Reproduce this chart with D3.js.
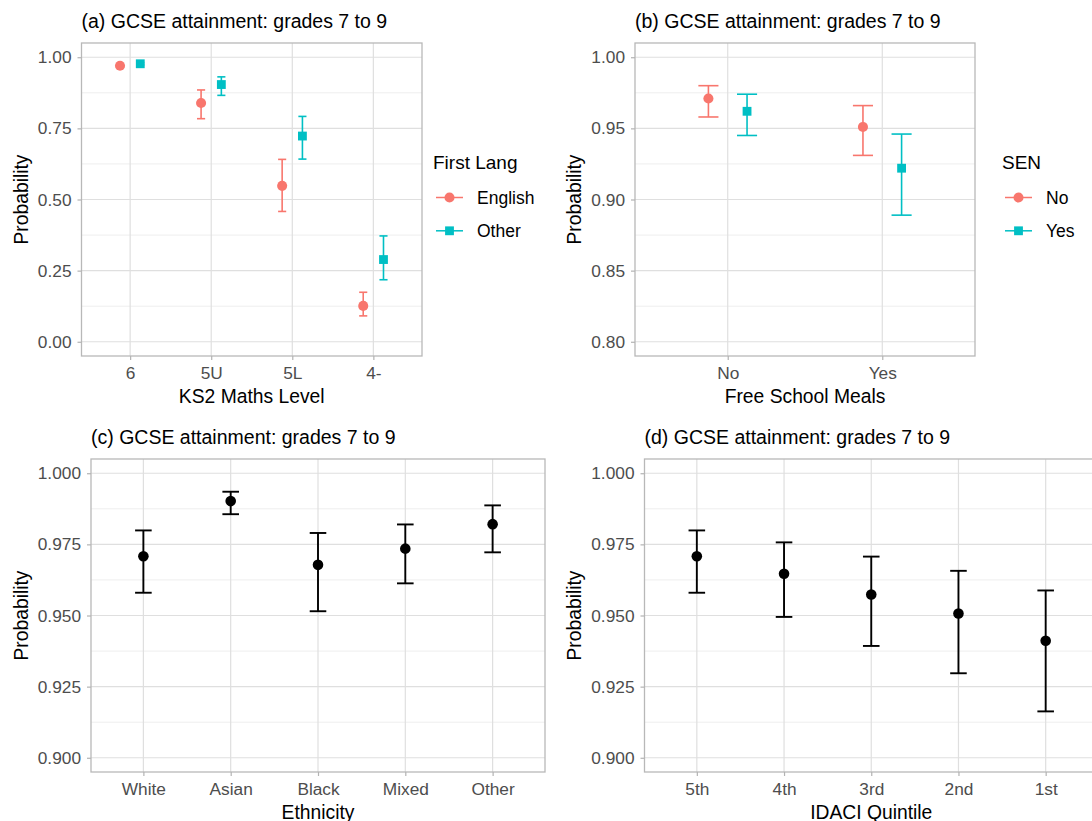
<!DOCTYPE html>
<html>
<head>
<meta charset="utf-8">
<script src="https://cdn.jsdelivr.net/npm/d3@7"></script>
<style>
  body { margin: 0; background: #fff; }
  text { font-family: "Liberation Sans", Arial, sans-serif; }
</style>
</head>
<body>
<svg id="chart" width="1092" height="821"></svg>
<script>
// (a) KS2 maths level by first language
const ks2Levels = ['6', '5U', '5L', '4-'];
const langGroups = ['English', 'Other'];
const englishEst = [0.970, 0.839, 0.548, 0.126];
const englishLo = [0.966, 0.784, 0.458, 0.091];
const englishHi = [0.974, 0.885, 0.641, 0.174];
const otherEst = [0.977, 0.904, 0.723, 0.289];
const otherLo = [0.973, 0.866, 0.642, 0.218];
const otherHi = [0.981, 0.931, 0.792, 0.372];

// (b) free school meals by SEN
const fsmLevels = ['No', 'Yes'];
const senGroups = ['No', 'Yes'];
const senNoEst = [0.971, 0.951];
const senNoLo = [0.958, 0.931];
const senNoHi = [0.980, 0.966];
const senYesEst = [0.962, 0.922];
const senYesLo = [0.945, 0.889];
const senYesHi = [0.974, 0.946];

// (c) ethnicity
const ethnicities = ['White', 'Asian', 'Black', 'Mixed', 'Other'];
const ethEst = [0.9708, 0.9902, 0.9678, 0.9735, 0.9821];
const ethLo = [0.9580, 0.9856, 0.9515, 0.9613, 0.9722];
const ethHi = [0.9799, 0.9935, 0.9790, 0.9820, 0.9887];

// (d) IDACI quintile
const quintiles = ['5th', '4th', '3rd', '2nd', '1st'];
const idaciEst = [0.9708, 0.9647, 0.9574, 0.9507, 0.9411];
const idaciLo = [0.9580, 0.9495, 0.9393, 0.9297, 0.9163];
const idaciHi = [0.9799, 0.9757, 0.9707, 0.9657, 0.9588];

// y ticks
const ticksA = [0, 0.25, 0.5, 0.75, 1];
const ticksB = [0.80, 0.85, 0.90, 0.95, 1.00];
const ticksCD = [0.900, 0.925, 0.950, 0.975, 1.000];

const RED = '#F8766D', CYAN = '#00BFC4';
const FONT = '"Liberation Sans", Arial, sans-serif';

const svg = d3.select('#chart');
svg.append('rect').attr('width', 1092).attr('height', 821).attr('fill', '#fff');

function toRows(cats, est, lo, hi) {
  return cats.map((c, i) => ({ cat: c, est: est[i], lo: lo[i], hi: hi[i] }));
}

function marker(shape, size) {
  return d3.symbol().type(shape).size(size)();
}

function drawPanel(p) {
  const g = svg.append('g');
  const x = d3.scalePoint().domain(p.cats).range([p.left, p.right]).padding(0.6);
  const span = p.yTicks[p.yTicks.length - 1] - p.yTicks[0];
  const y = d3.scaleLinear()
    .domain([p.yTicks[0] - span * 0.05, p.yTicks[p.yTicks.length - 1] + span * 0.05])
    .range([p.bottom, p.top]);
  const step = x.step();

  // minor grid
  const minors = d3.pairs(p.yTicks).map(([a, b]) => (a + b) / 2);
  g.append('g').selectAll('line').data(minors).join('line')
    .attr('x1', p.left).attr('x2', p.right)
    .attr('y1', d => y(d)).attr('y2', d => y(d))
    .attr('stroke', '#eeeeee').attr('stroke-width', 1);

  // major grid
  g.append('g').selectAll('line').data(p.yTicks).join('line')
    .attr('x1', p.left).attr('x2', p.right)
    .attr('y1', d => y(d)).attr('y2', d => y(d))
    .attr('stroke', '#dfdfdf').attr('stroke-width', 1.2);
  g.append('g').selectAll('line').data(p.cats).join('line')
    .attr('x1', d => x(d)).attr('x2', d => x(d))
    .attr('y1', p.top).attr('y2', p.bottom)
    .attr('stroke', '#dfdfdf').attr('stroke-width', 1.2);

  // error bars and points
  const n = p.series.length;
  p.series.forEach((s, i) => {
    const off = (i - (n - 1) / 2) * step * 0.25;
    const half = step * p.capFrac / 2;
    const sg = g.append('g');
    const rows = s.rows;
    sg.selectAll('.v').data(rows).join('line')
      .attr('x1', d => x(d.cat) + off).attr('x2', d => x(d.cat) + off)
      .attr('y1', d => y(d.lo)).attr('y2', d => y(d.hi))
      .attr('stroke', s.color).attr('stroke-width', p.lw);
    ['lo', 'hi'].forEach(k => {
      sg.selectAll('.c' + k).data(rows).join('line')
        .attr('x1', d => x(d.cat) + off - half).attr('x2', d => x(d.cat) + off + half)
        .attr('y1', d => y(d[k])).attr('y2', d => y(d[k]))
        .attr('stroke', s.color).attr('stroke-width', p.lw);
    });
    sg.selectAll('path.pt').data(rows).join('path')
      .attr('class', 'pt')
      .attr('transform', d => `translate(${x(d.cat) + off},${y(d.est)})`)
      .attr('d', marker(s.shape, s.size))
      .attr('fill', s.color);
  });

  // panel border
  g.append('rect')
    .attr('x', p.left).attr('y', p.top)
    .attr('width', p.right - p.left).attr('height', p.bottom - p.top)
    .attr('fill', 'none').attr('stroke', '#b8b8b8').attr('stroke-width', 1.3);

  // axes
  const yAxis = g.append('g').attr('transform', `translate(${p.left},0)`)
    .call(d3.axisLeft(y).tickValues(p.yTicks).tickFormat(d3.format(p.fmt)).tickSize(4).tickPadding(6));
  const xAxis = g.append('g').attr('transform', `translate(0,${p.bottom})`)
    .call(d3.axisBottom(x).tickSize(4).tickPadding(7));
  [yAxis, xAxis].forEach(a => {
    a.select('.domain').remove();
    a.selectAll('.tick line').attr('stroke', '#b3b3b3').attr('stroke-width', 1.2);
    a.selectAll('.tick text').attr('fill', '#4d4d4d').attr('font-size', 17.3)
      .attr('font-family', FONT);
  });

  // titles
  g.append('text').attr('x', p.left).attr('y', p.top - 15)
    .attr('font-size', 19.5).attr('fill', '#000').text(p.title);
  g.append('text').attr('x', (p.left + p.right) / 2).attr('y', p.bottom + 47)
    .attr('text-anchor', 'middle').attr('font-size', 19.3).attr('fill', '#000').text(p.xTitle);
  g.append('text')
    .attr('transform', `translate(${p.yTitleX},${(p.top + p.bottom) / 2}) rotate(-90)`)
    .attr('text-anchor', 'middle').attr('dy', '0.35em')
    .attr('font-size', 19.3).attr('fill', '#000').text('Probability');

  // legend
  if (p.legend) {
    const L = p.legend;
    const lg = g.append('g');
    lg.append('text').attr('x', L.x).attr('y', L.y).attr('font-size', 19)
      .attr('fill', '#000').text(L.title);
    p.series.forEach((s, i) => {
      const cy = L.y + 28.5 + i * 33.3;
      lg.append('line').attr('x1', L.x + 3).attr('x2', L.x + 30)
        .attr('y1', cy).attr('y2', cy).attr('stroke', s.color).attr('stroke-width', 1.5);
      lg.append('path')
        .attr('transform', `translate(${L.x + 16.5},${cy})`)
        .attr('d', marker(s.shape, s.size))
        .attr('fill', s.color);
      lg.append('text').attr('x', L.x + 44).attr('y', cy).attr('dy', '0.35em')
        .attr('font-size', 17.5).attr('fill', '#000').text(s.name);
    });
  }
}

drawPanel({
  title: '(a) GCSE attainment: grades 7 to 9', xTitle: 'KS2 Maths Level',
  cats: ks2Levels, yTicks: ticksA, fmt: '.2f',
  left: 81.5, right: 422, top: 43, bottom: 356, yTitleX: 21,
  capFrac: 0.1, lw: 1.6,
  series: [
    { name: langGroups[0], color: RED, shape: d3.symbolCircle, size: 80, rows: toRows(ks2Levels, englishEst, englishLo, englishHi) },
    { name: langGroups[1], color: CYAN, shape: d3.symbolSquare, size: 78, rows: toRows(ks2Levels, otherEst, otherLo, otherHi) }
  ],
  legend: { x: 433, title: 'First Lang', y: 169 }
});

drawPanel({
  title: '(b) GCSE attainment: grades 7 to 9', xTitle: 'Free School Meals',
  cats: fsmLevels, yTicks: ticksB, fmt: '.2f',
  left: 635, right: 975, top: 43, bottom: 356, yTitleX: 574,
  capFrac: 0.13, lw: 1.6,
  series: [
    { name: senGroups[0], color: RED, shape: d3.symbolCircle, size: 80, rows: toRows(fsmLevels, senNoEst, senNoLo, senNoHi) },
    { name: senGroups[1], color: CYAN, shape: d3.symbolSquare, size: 78, rows: toRows(fsmLevels, senYesEst, senYesLo, senYesHi) }
  ],
  legend: { x: 1002, title: 'SEN', y: 169 }
});

drawPanel({
  title: '(c) GCSE attainment: grades 7 to 9', xTitle: 'Ethnicity',
  cats: ethnicities, yTicks: ticksCD, fmt: '.3f',
  left: 91, right: 545, top: 459, bottom: 772, yTitleX: 21,
  capFrac: 0.19, lw: 1.9,
  series: [
    { name: 'all', color: '#000', shape: d3.symbolCircle, size: 88, rows: toRows(ethnicities, ethEst, ethLo, ethHi) }
  ]
});

drawPanel({
  title: '(d) GCSE attainment: grades 7 to 9', xTitle: 'IDACI Quintile',
  cats: quintiles, yTicks: ticksCD, fmt: '.3f',
  left: 644.5, right: 1098, top: 459, bottom: 772, yTitleX: 574,
  capFrac: 0.19, lw: 1.9,
  series: [
    { name: 'all', color: '#000', shape: d3.symbolCircle, size: 88, rows: toRows(quintiles, idaciEst, idaciLo, idaciHi) }
  ]
});
</script>
</body>
</html>
